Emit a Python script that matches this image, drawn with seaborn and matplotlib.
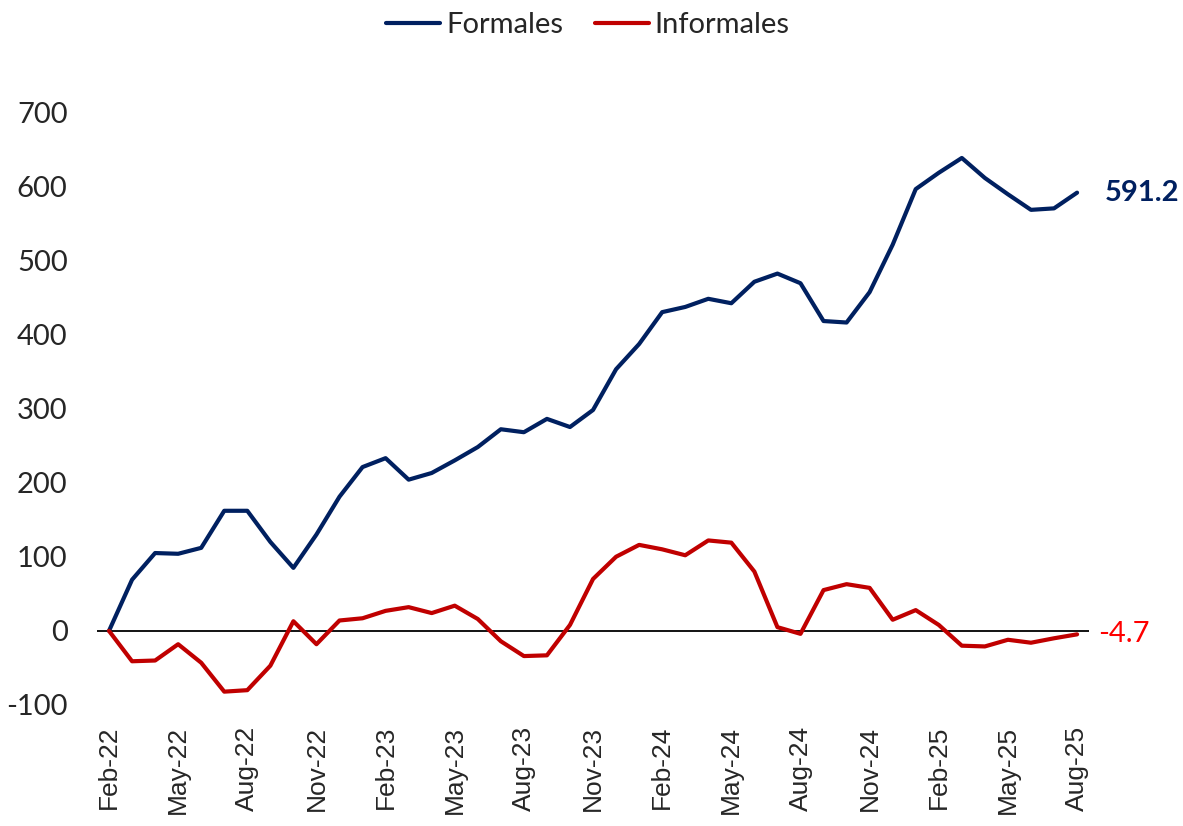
import matplotlib.pyplot as plt
import seaborn as sns
import pandas as pd
import numpy as np

# monthly series, Feb-22 .. Aug-25
months = pd.date_range("2022-02-01", "2025-08-01", freq="MS")
formales = [0, 69, 105, 104, 112, 162, 162, 120, 85, 130, 181, 221, 233, 204, 213,
            230, 248, 272, 268, 286, 275, 298, 353, 387, 430, 437, 448, 442, 471,
            482, 469, 418, 416, 457, 521, 596, 618, 638, 611, 589, 568, 570, 591.2]
informales = [0, -41, -40, -18, -43, -82, -80, -47, 13, -18, 14, 17, 27, 32, 24,
              34, 16, -14, -34, -33, 8, 70, 100, 116, 110, 102, 122, 119, 80,
              5, -4, 55, 63, 58, 15, 28, 8, -20, -21, -12, -16, -10, -4.7]
tick_labels = ["Feb-22", "May-22", "Aug-22", "Nov-22", "Feb-23", "May-23", "Aug-23",
               "Nov-23", "Feb-24", "May-24", "Aug-24", "Nov-24", "Feb-25", "May-25", "Aug-25"]
y_ticks = [-100, 0, 100, 200, 300, 400, 500, 600, 700]

df = pd.DataFrame({"idx": np.arange(len(months)), "Formales": formales, "Informales": informales})
df = df.melt(id_vars="idx", var_name="serie", value_name="valor")

sns.set_theme(style="white")
plt.rcParams['font.family'] = ['Lato', 'DejaVu Sans']

fig = plt.figure(figsize=(11.83, 8.26), dpi=100)
ax = fig.add_axes([0.0824, 0.1465, 0.8378, 0.7179])

colors = {"Formales": "#002060", "Informales": "#C00000"}
sns.lineplot(data=df, x="idx", y="valor", hue="serie", palette=colors,
             linewidth=3.0, ax=ax, legend=True)

ax.axhline(0, color="black", linewidth=1.3, zorder=1)
ax.set_xlim(-0.5, len(months) - 0.5)
ax.set_ylim(-100, 700)
ax.set_yticks(y_ticks)
ax.set_yticklabels([str(v) for v in y_ticks], fontsize=21)
ax.tick_params(axis="y", pad=21.5, length=0)
ax.set_xticks(np.arange(0, len(months), 3))
ax.set_xticklabels(tick_labels, rotation=90, fontsize=19, family=['Liberation Sans'])
ax.tick_params(axis="x", pad=15, length=0)
ax.set_xlabel("")
ax.set_ylabel("")
for s in ax.spines.values():
    s.set_visible(False)

handles, labels = ax.get_legend_handles_labels()
ax.get_legend().remove()
fig.legend(handles=handles, labels=labels, loc="center", bbox_to_anchor=(0.497, 0.97),
           ncol=2, frameon=False, fontsize=21, handlelength=1.85, handletextpad=0.2,
           columnspacing=1.1)

ax.text(len(months) - 1 + 1.2, formales[-1], f"{formales[-1]:.1f}", color="#002060",
        fontsize=21, fontweight="bold", va="center", ha="left")
ax.text(len(months) - 1 + 0.9, informales[-1], f"{informales[-1]:.1f}", color="#FF0000",
        fontsize=21, va="center", ha="left")

plt.savefig("out.png", dpi=100)
